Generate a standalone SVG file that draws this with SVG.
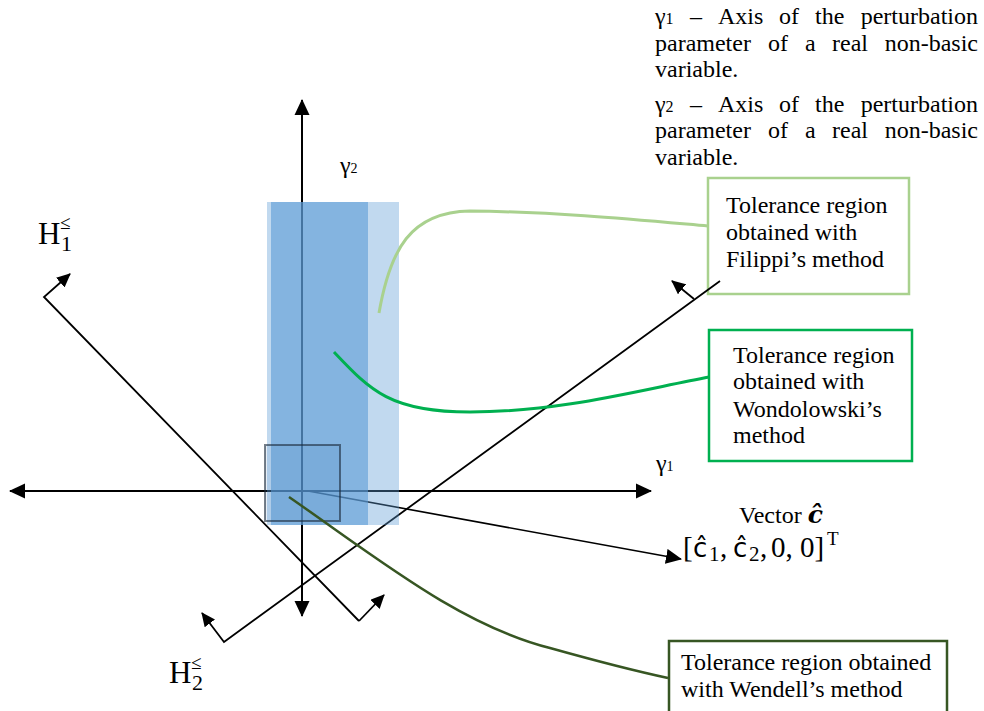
<svg xmlns="http://www.w3.org/2000/svg" width="984" height="711" viewBox="0 0 984 711">
<style>
.t{font-family:"Liberation Serif","Times New Roman",serif;font-size:24px;fill:#000}
.m{font-family:"Liberation Serif","DejaVu Serif",serif;fill:#000}
.ax{stroke:#000;stroke-width:2;fill:none}
.hl{stroke:#000;stroke-width:1.8;fill:none}
</style>
<defs>
<marker id="ah" markerUnits="userSpaceOnUse" markerWidth="16" markerHeight="16" refX="15" refY="7.5" orient="auto" viewBox="0 0 16 15">
<path d="M0,0 L16,7.5 L0,15 z" fill="#000"/>
</marker>
<marker id="as" markerUnits="userSpaceOnUse" markerWidth="14" markerHeight="13" refX="13" refY="6.5" orient="auto" viewBox="0 0 14 13">
<path d="M0,0 L14,6.5 L0,13 z" fill="#000"/>
</marker>
</defs>

<g id="legend">
<text class="t" y="24"><tspan x="655">γ</tspan><tspan font-size="16">1</tspan><tspan x="690">–</tspan><tspan x="718">Axis</tspan><tspan x="779">of</tspan><tspan x="815">the</tspan><tspan x="978" text-anchor="end">perturbation</tspan></text>
<text class="t" y="51"><tspan x="655">parameter</tspan><tspan x="768">of</tspan><tspan x="805">a</tspan><tspan x="832">real</tspan><tspan x="978" text-anchor="end">non-basic</tspan></text>
<text class="t" x="655" y="77">variable.</text>
<text class="t" y="112"><tspan x="655">γ</tspan><tspan font-size="16">2</tspan><tspan x="690">–</tspan><tspan x="718">Axis</tspan><tspan x="779">of</tspan><tspan x="815">the</tspan><tspan x="978" text-anchor="end">perturbation</tspan></text>
<text class="t" y="138"><tspan x="655">parameter</tspan><tspan x="768">of</tspan><tspan x="805">a</tspan><tspan x="832">real</tspan><tspan x="978" text-anchor="end">non-basic</tspan></text>
<text class="t" x="655" y="165">variable.</text>
</g>

<g id="box-filippi">
<rect x="708" y="178" width="201" height="116" fill="#fff" stroke="#a9d18e" stroke-width="2.5"/>
<text class="t" x="726" y="213">Tolerance region</text>
<text class="t" x="726" y="240">obtained with</text>
<text class="t" x="726" y="267">Filippi’s method</text>
</g>
<g id="box-wondolowski">
<rect x="709" y="330" width="203" height="131" fill="#fff" stroke="#00b050" stroke-width="2.5"/>
<text class="t" x="733" y="363">Tolerance region</text>
<text class="t" x="733" y="389">obtained with</text>
<text class="t" x="733" y="417">Wondolowski’s</text>
<text class="t" x="733" y="443">method</text>
</g>
<g id="box-wendell">
<rect x="669" y="641" width="278" height="72" fill="#fff" stroke="#375623" stroke-width="2.5"/>
<text class="t" x="681" y="670">Tolerance region obtained</text>
<text class="t" x="681" y="697">with Wendell’s method</text>
</g>

<g id="axes">
<line class="ax" x1="302" y1="615" x2="302" y2="100" marker-end="url(#ah)"/>
<line class="ax" x1="302" y1="491" x2="302" y2="616" marker-end="url(#ah)"/>
<line class="ax" x1="302" y1="491" x2="651" y2="491" marker-end="url(#ah)"/>
<line class="ax" x1="302" y1="491" x2="10" y2="491" marker-end="url(#ah)"/>
<text class="t" x="656" y="471" font-size="24">γ<tspan font-size="14">1</tspan></text>
<text class="t" x="340" y="173" font-size="24">γ<tspan font-size="14">2</tspan></text>
</g>

<g id="h1">
<path class="hl" d="M359,621 L44,297 L70,274" marker-end="url(#as)"/>
<line class="hl" x1="359" y1="621" x2="384" y2="595" marker-end="url(#as)"/>
<text class="m" x="38" y="244" font-size="31">H<tspan x="60" y="229" font-size="19">≤</tspan><tspan x="61" y="251" font-size="22">1</tspan></text>
</g>
<g id="h2">
<path class="hl" d="M720,281 L224,642 L202,613" marker-end="url(#as)"/>
<line class="hl" x1="694" y1="299" x2="672" y2="281" marker-end="url(#as)"/>
<text class="m" x="169" y="683" font-size="31">H<tspan x="191" y="669" font-size="19">≤</tspan><tspan x="192" y="690" font-size="22">2</tspan></text>
</g>

<g id="vector-c">
<line x1="308" y1="491" x2="681" y2="559" stroke="#000" stroke-width="1.6" marker-end="url(#ah)"/>
<text class="t" x="739" y="523">Vector <tspan font-family="'DejaVu Serif',serif" font-weight="bold" font-style="italic" font-size="25">ĉ</tspan></text>
<text class="m" y="557" font-size="29"><tspan x="683">[</tspan><tspan x="693" font-family="'DejaVu Sans',sans-serif" font-size="26">ĉ</tspan><tspan x="709" y="561" font-size="21">1</tspan><tspan x="720" y="557">,</tspan><tspan x="733" font-family="'DejaVu Sans',sans-serif" font-size="26">ĉ</tspan><tspan x="749" y="561" font-size="21">2</tspan><tspan x="760" y="557">,</tspan><tspan x="771">0,</tspan><tspan x="800">0]</tspan><tspan x="827" y="545" font-size="19">T</tspan></text>
</g>

<g id="regions">
<rect id="region-filippi" x="267" y="202" width="132" height="323" fill="#5b9bd5" fill-opacity="0.38"/>
<rect id="region-wondolowski" x="271" y="202" width="97" height="323" fill="#5b9bd5" fill-opacity="0.6"/>
<rect id="region-wendell" x="265" y="445" width="75" height="76" fill="#2e75b6" fill-opacity="0.12" stroke="#1a2a3a" stroke-opacity="0.6" stroke-width="2"/>
</g>

<g id="connectors" fill="none">
<path d="M379,313 C390,250 410,212 470,211 C560,212 640,220 708,226" stroke="#a9d18e" stroke-width="3"/>
<path d="M334,352 C370,390 390,412 470,412 C560,412 640,390 709,377" stroke="#00b050" stroke-width="3"/>
<path d="M289,497 C380,560 460,625 550,648 C600,662 640,672 668,678" stroke="#375623" stroke-width="2.5"/>
</g>
</svg>
